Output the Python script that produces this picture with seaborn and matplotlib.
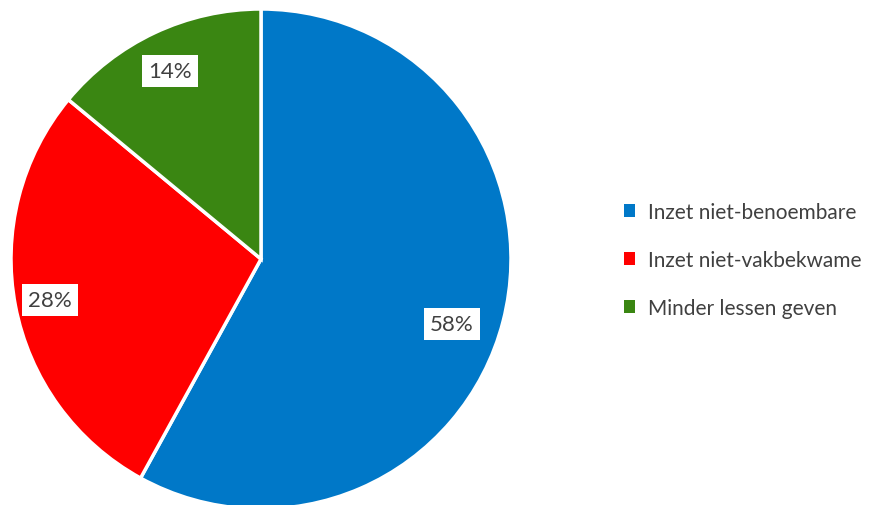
import matplotlib
matplotlib.use("Agg")
import matplotlib.pyplot as plt
import seaborn as sns

categories = ["Inzet niet-benoembare", "Inzet niet-vakbekwame", "Minder lessen geven"]
shares = [58, 28, 14]
colors = ["#0078C8", "#FF0000", "#3A8612"]
label_pos = [(0.764, -0.26), (-0.844, -0.164), (-0.364, 0.752)]

sns.set_theme(style="white")
plt.rcParams["font.family"] = ["Lato", "DejaVu Sans"]

fig = plt.figure(figsize=(8.72, 5.06), dpi=100)
W, H = 872, 506
ax = fig.add_axes([(261 - 250) / W, (506 - 510) / H, 500 / W, 500 / H])

wedges, _ = ax.pie(shares, colors=colors, startangle=90, counterclock=False,
                   radius=1, wedgeprops=dict(edgecolor="white", linewidth=2.5))
ax.set_xlim(-1, 1)
ax.set_ylim(-1, 1)
ax.axis("off")

for v, (x, y) in zip(shares, label_pos):
    ax.text(x, y, f"{v}%", ha="center", va="center", fontsize=16, color="#404040",
            bbox=dict(facecolor="white", edgecolor="none", pad=4.5))

leg = fig.legend(wedges, categories, loc="center left",
                 bbox_to_anchor=(605 / W, 1 - 261 / H), frameon=False,
                 fontsize=15, handlelength=0.55, handleheight=0.55,
                 handletextpad=0.6, labelspacing=1.35, labelcolor="#404040")
for h in leg.legend_handles:
    h.set_edgecolor("none")

fig.savefig("out.png", dpi=100)
